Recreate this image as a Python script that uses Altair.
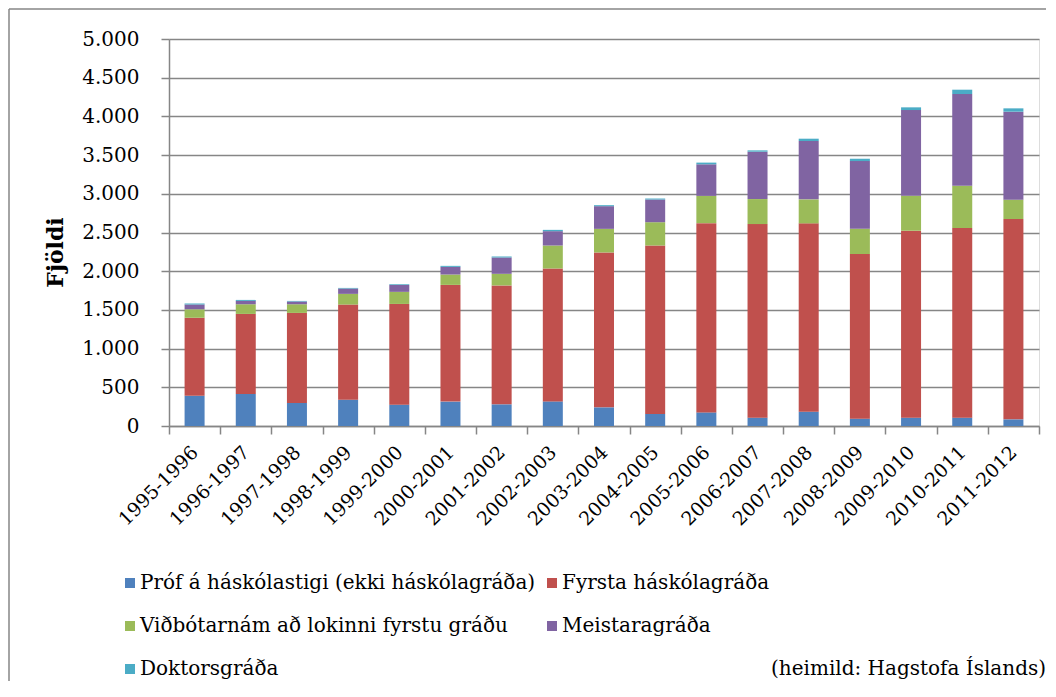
import altair as alt
import pandas as pd

years = ["1995-1996", "1996-1997", "1997-1998", "1998-1999", "1999-2000",
         "2000-2001", "2001-2002", "2002-2003", "2003-2004", "2004-2005",
         "2005-2006", "2006-2007", "2007-2008", "2008-2009", "2009-2010",
         "2010-2011", "2011-2012"]

series_names = ["Próf á háskólastigi (ekki háskólagráða)", "Fyrsta háskólagráða",
                "Viðbótarnám að lokinni fyrstu gráðu", "Meistaragráða", "Doktorsgráða"]
series_colors = ["#4F81BD", "#C0504D", "#9BBB59", "#8064A2", "#4BACC6"]

prof = [392, 414, 297, 340, 276, 315, 280, 318, 241, 155, 176, 108, 185, 95, 108, 108, 86]
fyrsta = [1005, 1034, 1164, 1229, 1301, 1508, 1536, 1717, 2001, 2177, 2445, 2501, 2433, 2127, 2415, 2450, 2588]
vidbot = [112, 125, 112, 138, 156, 134, 150, 297, 305, 301, 352, 323, 310, 327, 452, 547, 250]
meistara = [60, 43, 35, 69, 90, 99, 211, 185, 293, 293, 408, 612, 754, 874, 1107, 1184, 1137]
doktor = [13, 13, 8, 8, 9, 13, 13, 17, 13, 13, 22, 17, 30, 30, 35, 56, 43]

y_title = "Fjöldi"
source_text = "(heimild: Hagstofa Íslands)"
y_ticks = list(range(0, 5001, 500))

all_series = [prof, fyrsta, vidbot, meistara, doktor]
rows = []
for i, yr in enumerate(years):
    for k, name in enumerate(series_names):
        rows.append({"year": yr, "cat": name, "value": all_series[k][i], "ord": k})
df = pd.DataFrame(rows)

SERIF = "DejaVu Serif"
GRAY = "#868686"

bars = alt.Chart(df).mark_bar(size=20).encode(
    x=alt.X("year:N", sort=years, title=None,
            scale=alt.Scale(paddingInner=0, paddingOuter=0),
            axis=alt.Axis(labelAngle=-45, labelAlign="right", labelBaseline="middle",
                          labelFont=SERIF, labelFontSize=19, labelColor="black",
                          labelPadding=15, tickBand="extent", tickSize=8,
                          tickColor=GRAY, domainColor=GRAY, domainWidth=1.5,
                          tickWidth=1.5, labelOverlap=False)),
    y=alt.Y("value:Q", stack="zero",
            scale=alt.Scale(domain=[0, 5000], nice=False),
            axis=alt.Axis(values=y_ticks,
                          labelExpr="replace(format(datum.value, ','), ',', '.')",
                          title=y_title, titleFont=SERIF, titleFontSize=22,
                          titleFontWeight="bold", titleColor="black",
                          titleX=-114, titleY=213, titleAngle=-90,
                          titleAlign="center", titleBaseline="middle",
                          labelFont=SERIF, labelFontSize=20, labelColor="black",
                          labelPadding=22, tickSize=8, tickColor=GRAY,
                          tickWidth=1.5, domainColor=GRAY, domainWidth=1.5,
                          grid=True, gridColor=GRAY, gridWidth=1.5)),
    color=alt.Color("cat:N", sort=series_names,
                    scale=alt.Scale(domain=series_names, range=series_colors),
                    legend=alt.Legend(title=None, orient="none", legendX=-49, legendY=534,
                                      columns=2, direction="horizontal",
                                      symbolType="square", symbolSize=100,
                                      symbolStrokeWidth=0, labelFont=SERIF,
                                      labelFontSize=20, labelColor="black",
                                      labelLimit=600, labelOffset=0,
                                      rowPadding=23, columnPadding=6, padding=0)),
    order=alt.Order("ord:Q", sort="ascending"),
)

one_df = pd.DataFrame({"k": [0]})
border_left = alt.Chart(one_df).mark_rule(color=GRAY, strokeWidth=1.5).encode(
    x=alt.value(-160), x2=alt.value(-160), y=alt.value(-30), y2=alt.value(700)
)
border_top = alt.Chart(one_df).mark_rule(color=GRAY, strokeWidth=1.5).encode(
    x=alt.value(-160), x2=alt.value(900), y=alt.value(-30), y2=alt.value(-30)
)

source = alt.Chart(one_df).mark_text(font=SERIF, fontSize=20, color="black",
                                      align="right", baseline="middle").encode(
    x=alt.value(877), y=alt.value(630), text=alt.value(source_text)
)

chart = alt.layer(border_left, border_top, bars, source).properties(
    width=870, height=387,
    padding={"left": 161, "top": 31, "right": 7, "bottom": 255},
    autosize=alt.AutoSizeParams(type="none"),
).configure_view(stroke=None).configure(background="white")

chart.save("out.html", embed_options={"renderer": "svg", "actions": False})
